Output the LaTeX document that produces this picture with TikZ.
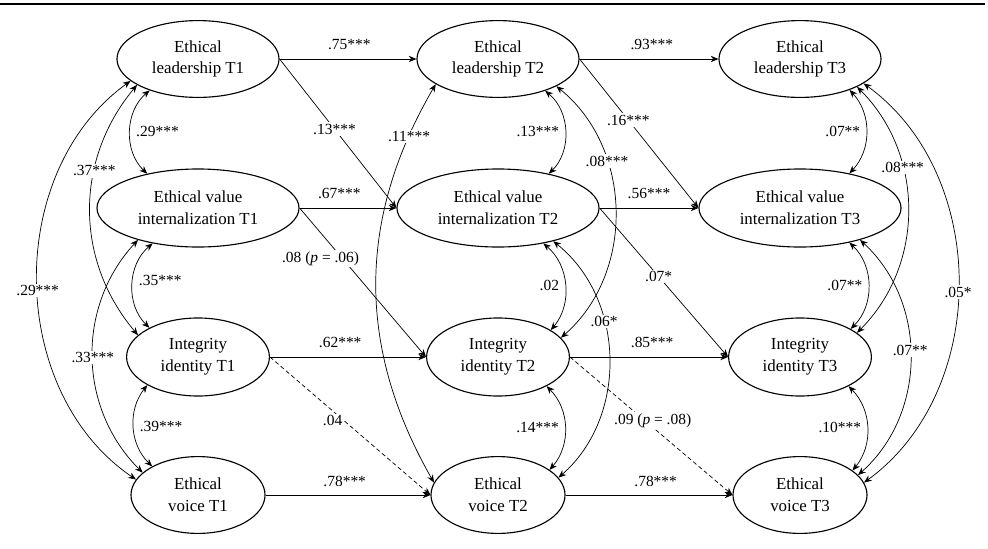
\documentclass[tikz,border=0pt]{standalone}
\usepackage{fontspec}
\setmainfont{Liberation Serif}
\usetikzlibrary{shapes.geometric,arrows.meta}

\tikzset{every picture/.style={line width=0.5pt}}
\tikzset{
  latent/.style={ellipse, draw, line width=0.8pt, inner sep=0pt, align=center,
    font=\fontsize{12}{15.5}\selectfont},
  elnode/.style={latent, minimum width=4.05cm, minimum height=1.92cm},
  evinode/.style={latent, minimum width=5.05cm, minimum height=1.95cm},
  iinode/.style={latent, minimum width=3.57cm, minimum height=1.95cm},
  evnode/.style={latent, minimum width=3.35cm, minimum height=1.92cm},
  reg/.style={-{Stealth[length=5.5pt,width=4.5pt]}},
  covar/.style={{Stealth[length=5.5pt,width=4.5pt]}-{Stealth[length=5.5pt,width=4.5pt]}},
  est/.style={font=\fontsize{11}{13}\selectfont, inner sep=1pt},
  cut/.style={est, fill=white},
  weak/.style={reg, dash pattern=on 3pt off 2pt}
}

\begin{document}
\begin{tikzpicture}[x=0.025cm, y=-0.025cm]
  \useasboundingbox (0,0) rectangle (988,548);
  \draw[line width=1pt] (0,4) -- (985,4);

  % Variables
  \foreach \k/\x in {1/198, 2/498, 3/800} {
    \node[elnode]  (EL\k)  at (\x,59)  {Ethical\\leadership T\k};
    \node[evinode] (EVI\k) at (\x,208) {Ethical value\\internalization T\k};
    \node[iinode]  (II\k)  at (\x,357) {Integrity\\identity T\k};
    \node[evnode]  (EV\k)  at (\x,495) {Ethical\\voice T\k};
  }

  % Stabilites
  \foreach \r/\a/\pa/\b/\pb in {EL/.75***/.51/.93***/.52, EVI/.67***/.41/.56***/.5,
      II/.62***/.45/.85***/.52, EV/.78***/.48/.78***/.54} {
    \draw[reg] (\r1) -- node[est, above=5pt, pos=\pa] {\a} (\r2);
    \draw[reg] (\r2) -- node[est, above=5pt, pos=\pb] {\b} (\r3);
  }

  % Effets croises
  \draw[reg] (EL1.east) -- node[cut, pos=0.47] {.13***} (EVI2.west);
  \draw[reg] (EL2.east) -- node[cut, pos=0.41] {.16***} (EVI3.west);
  \draw[reg] (EVI1.east) -- node[cut, pos=0.34, xshift=-0.55cm] {.08 (\textit{p} = .06)} (II2.west);
  \draw[reg] (EVI2.east) -- node[cut, pos=0.46] {.07*} (II3.west);
  \draw[weak] (II1.east) -- node[cut, pos=0.46, xshift=-0.28cm] {.04} (EV2.west);
  \draw[weak] (II2.east) -- node[cut, pos=0.46, xshift=0.2cm] {.09 (\textit{p} = .08)} (EV3.west);

  % Covariances T1
  \draw[covar] (EL1.213) to[bend right=48] node[est, right=3pt] {.29***} (EVI1.146);
  \draw[covar] (EL1.203) to[bend right=40] node[cut, pos=0.35] {.37***} (II1.160);
  \draw[covar] (EL1.198) to[bend right=55] node[cut, pos=0.52] {.29***} (EV1.166);
  \draw[covar] (EVI1.218) to[bend right=48] node[est, right=3pt, pos=0.45] {.35***} (II1.149);
  \draw[covar] (EVI1.208) to[bend right=44] node[cut, pos=0.5] {.33***} (EV1.158);
  \draw[covar] (II1.209) to[bend right=42] node[est, right=3pt] {.39***} (EV1.148);

  % Covariances T2
  \draw[covar] (EL2.202) to[bend right=30] node[cut, pos=0.13] {.11***} (EV2.169);
  \draw[covar] (EL2.326) to[bend left=48] node[est, left=3pt] {.13***} (EVI2.34);
  \draw[covar] (EL2.335) to[bend left=50] node[cut, pos=0.32] {.08***} (II2.17);
  \draw[covar] (EVI2.322) to[bend left=45] node[est, left=3pt] {.02} (II2.27);
  \draw[covar] (EVI2.329) to[bend left=50] node[cut, pos=0.36] {.06*} (EV2.16);
  \draw[covar] (II2.329) to[bend left=43] node[est, left=3pt] {.14***} (EV2.26);

  % Covariances T3
  \draw[covar] (EL3.328) to[bend left=43] node[est, left=3pt] {.07**} (EVI3.35);
  \draw[covar] (EL3.334) to[bend left=45] node[cut, pos=0.34] {.08***} (II3.23);
  \draw[covar] (EL3.339) to[bend left=54] node[cut, pos=0.52] {.05*} (EV3.11);
  \draw[covar] (EVI3.325) to[bend left=46] node[est, left=3pt] {.07**} (II3.29);
  \draw[covar] (EVI3.332) to[bend left=48] node[cut, pos=0.47] {.07**} (EV3.19);
  \draw[covar] (II3.329) to[bend left=42] node[est, left=3pt] {.10***} (EV3.25);
\end{tikzpicture}
\end{document}
